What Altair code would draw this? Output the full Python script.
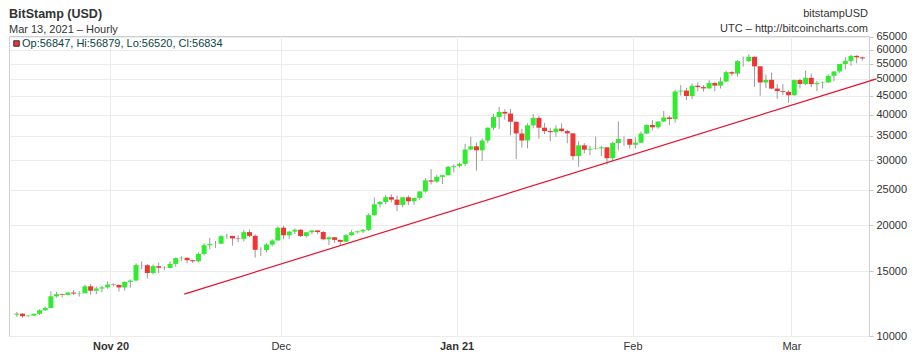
import altair as alt
import pandas as pd

# Daily candles, Oct 15 2020 .. Mar 13 2021 (BitStamp BTC/USD)
opens = [
    11425, 11500, 11320, 11365, 11495, 11750, 11915, 12820, 12990, 12935, 13125, 13040, 13070, 13650, 13275, 13460, 13560,
    13800, 13760, 13550, 14030, 14150, 15590, 15580, 14830, 15480, 15330, 15310, 15700, 16280, 16320, 16070, 15960, 16720, 17660, 17800, 17820, 18680, 18710, 18420, 18370, 19160, 18720, 17150, 17140, 17720, 18180,
    19700, 18790, 19220, 19450, 18700, 19150, 19360, 19170, 18320, 18550, 18250, 18030, 18800, 19140, 19250, 19430, 21310, 22800, 23140, 23850, 23480, 22720, 23830, 23240, 23730, 24710, 26490, 26280, 27080, 27360, 28840,
    29000, 29370, 32130, 32780, 31970, 33990, 36820, 39370, 40670, 40240, 38240, 35540, 34010, 37390, 39160, 36830, 36070, 35820, 36630, 36070, 35550, 30830, 32990, 32100, 32290, 32370, 32570, 30430, 33470, 34320, 34320,
    33110, 33540, 35510, 37470, 36930, 38290, 39270, 38900, 46200, 46480, 44920, 47910, 47500, 47100, 48720, 47940, 49200, 52150, 51680, 55890, 55890, 57400, 54090, 48890, 49710, 47060, 46330, 46100,
    45140, 49630, 48440, 50350, 48370, 48750, 48880, 50970, 52380, 54880, 55960, 57750, 57230,
]
highs = [
    11630, 11540, 11400, 11500, 11820, 12030, 13220, 13190, 13030, 13160, 13340, 13240, 13790, 13850, 13640, 13690, 14080,
    13900, 13820, 14070, 14260, 15770, 15960, 15700, 15650, 15840, 15480, 15950, 16340, 16480, 16330, 16120, 16880, 17860, 18480, 18130, 18800, 18960, 18720, 18770, 19420, 19480, 18910, 17450, 17880, 18340, 19860,
    19920, 19300, 19590, 19520, 19170, 19410, 19420, 19290, 18630, 18560, 18270, 18920, 19400, 19330, 19550, 21560, 23770, 23280, 24180, 24280, 24080, 23830, 24120, 23770, 24780, 26870, 28420, 27420, 27390, 28990, 29300,
    29600, 33300, 34780, 33600, 34440, 36940, 40180, 41950, 41350, 41420, 38260, 36600, 37850, 40100, 39700, 37950, 36800, 37400, 37850, 36400, 35600, 33820, 33450, 32950, 34870, 32900, 32580, 33760, 38300, 34900, 34340,
    34680, 35950, 37650, 38650, 38300, 40900, 39700, 46750, 48150, 47300, 48600, 48900, 48100, 49700, 49000, 50500, 52600, 52500, 56300, 57550, 58350, 57500, 54200, 51360, 52000, 48350, 48400, 46600,
    49800, 50100, 52600, 51700, 49400, 49200, 51450, 52400, 54900, 57300, 58100, 58000, 57480,
]
lows = [
    11270, 11220, 11290, 11340, 11410, 11690, 11900, 12720, 12730, 12900, 12930, 12800, 13060, 12950, 12990, 13140, 13440,
    13630, 13200, 13290, 13530, 14100, 15180, 14340, 14720, 14800, 15090, 15280, 15430, 15990, 15790, 15800, 15880, 16560, 17230, 17350, 17760, 18380, 17610, 18010, 18070, 18580, 16330, 16500, 16870, 17540, 18180,
    18330, 18350, 18930, 18580, 18510, 18940, 18920, 18210, 17650, 17910, 17570, 18020, 18730, 19000, 19050, 19290, 21230, 22350, 22800, 23070, 21840, 22360, 22700, 22720, 23440, 24520, 25820, 26120, 25880, 27340, 27850,
    28700, 28950, 32000, 28130, 29920, 33450, 36300, 36570, 38720, 35130, 30300, 32500, 32380, 36700, 34400, 35400, 33850, 34800, 35900, 33400, 30100, 28850, 31400, 31000, 32100, 30850, 29250, 29900, 31950, 32900, 32300,
    32300, 33440, 35390, 36200, 36600, 38220, 37400, 37990, 45000, 43750, 44050, 46300, 46200, 47050, 46300, 47080, 48950, 50950, 50750, 54000, 55500, 47600, 45000, 47200, 46900, 44150, 45150, 43050,
    45000, 47100, 48100, 47500, 46300, 47100, 48880, 49300, 51850, 53050, 54300, 55100, 56100,
]
closes = [
    11500, 11320, 11365, 11495, 11750, 11915, 12820, 12990, 12935, 13125, 13040, 13070, 13650, 13275, 13460, 13560, 13800,
    13760, 13550, 14030, 14150, 15590, 15580, 14830, 15480, 15330, 15310, 15700, 16280, 16320, 16070, 15960, 16720, 17660, 17800, 17820, 18680, 18710, 18420, 18370, 19160, 18720, 17150, 17140, 17720, 18180, 19700,
    18790, 19220, 19450, 18700, 19150, 19360, 19170, 18320, 18550, 18250, 18030, 18800, 19140, 19250, 19430, 21310, 22800, 23140, 23850, 23480, 22720, 23830, 23240, 23730, 24710, 26490, 26280, 27080, 27360, 28840, 29000,
    29370, 32130, 32780, 31970, 33990, 36820, 39370, 40670, 40240, 38240, 35540, 34010, 37390, 39160, 36830, 36070, 35820, 36630, 36070, 35550, 30830, 32990, 32100, 32290, 32370, 32570, 30430, 33470, 34320, 34320, 33110,
    33540, 35510, 37470, 36930, 38290, 39270, 38900, 46200, 46480, 44920, 47910, 47500, 47100, 48720, 47940, 49200, 52150, 51680, 55890, 55890, 57400, 54090, 48890, 49710, 47060, 46330, 46100, 45140,
    49630, 48440, 50350, 48370, 48750, 48880, 50970, 52380, 54880, 55960, 57750, 57230, 56834,
]

# Trend line end points
trend_dates = ["2020-11-14T00:00:00", "2021-03-16T00:00:00"]
trend_values = [13000, 50000]

# Y tick labels
y_ticks = [10000, 15000, 20000, 25000, 30000, 35000, 40000, 45000, 50000, 55000, 60000, 65000]

# Last hourly candle shown in the legend
last_op, last_hi, last_lo, last_cl = 56847, 56879, 56520, 56834

dates = pd.date_range("2020-10-15 12:00", periods=len(closes), freq="D").strftime("%Y-%m-%dT%H:%M:%S")
df = pd.DataFrame({"date": dates, "open": opens, "high": highs, "low": lows, "close": closes})
trend = pd.DataFrame({"date": trend_dates, "price": trend_values})

FONT = "Liberation Sans"

xscale = alt.Scale(domain=[alt.DateTime(year=2020, month=10, date=15),
                           alt.DateTime(year=2021, month=3, date=13, hours=19)])
yscale = alt.Scale(type="log", domain=[10000, 65400], nice=False)

month_ticks = [alt.DateTime(year=2020, month=11, date=1), alt.DateTime(year=2020, month=12, date=1),
               alt.DateTime(year=2021, month=1, date=1), alt.DateTime(year=2021, month=2, date=1),
               alt.DateTime(year=2021, month=3, date=1)]

xaxis = alt.Axis(
    values=month_ticks, title=None, grid=True, tickSize=0, labelPadding=4, domain=False,
    labelExpr="(month(datum.value) == 0 || month(datum.value) == 10) ? timeFormat(datum.value, '%b %y') : timeFormat(datum.value, '%b')",
    labelFontWeight={"condition": {"test": "month(datum.value) == 0 || month(datum.value) == 10", "value": "bold"}, "value": "normal"},
)
yaxis = alt.Axis(orient="right", values=y_ticks, format="d", title=None, grid=True,
                 tickSize=4, labelPadding=3, domain=False)

base = alt.Chart(df)

wicks = base.mark_rule(color="#9a9a9a", strokeWidth=1).encode(
    x=alt.X("date:T", scale=xscale, axis=xaxis),
    y=alt.Y("low:Q", scale=yscale, axis=yaxis),
    y2="high:Q",
)

bodies = base.mark_bar(size=5).encode(
    x=alt.X("date:T", scale=xscale),
    y=alt.Y("open:Q", scale=yscale),
    y2="close:Q",
    color=alt.condition("datum.close >= datum.open", alt.value("#2fec2f"), alt.value("#f03535")),
)

trend_line = alt.Chart(trend).mark_line(color="#e8102e", strokeWidth=1.2, clip=False).encode(
    x=alt.X("date:T", scale=xscale),
    y=alt.Y("price:Q", scale=yscale),
)

def label(txt, x, y, size, weight="normal", align="left", color="#333333"):
    return alt.Chart(pd.DataFrame({"t": [txt]})).mark_text(
        align=align, baseline="alphabetic", font=FONT, fontSize=size, fontWeight=weight, color=color
    ).encode(x=alt.value(x), y=alt.value(y), text="t:N")

legend_txt = f"Op:{last_op}, Hi:{last_hi}, Lo:{last_lo}, Cl:{last_cl}"

texts = [
    label("BitStamp (USD)", 0, -18, 12.5, "bold"),
    label("Mar 13, 2021 \u2013 Hourly", 0, -3.5, 11),
    label("bitstampUSD", 859, -19, 11, align="right"),
    label("UTC \u2013 http://bitcoincharts.com", 859, -4.5, 11, align="right"),
    label(legend_txt, 13, 11, 11, color="#0c4545"),
]

square = alt.Chart(pd.DataFrame({"t": ["x"]})).mark_square(
    size=30, fill="#f03535", stroke="#333333", strokeWidth=1, opacity=1
).encode(x=alt.value(7.5), y=alt.value(7.5))

chart = alt.layer(wicks, bodies, trend_line, square, *texts).properties(
    width=860, height=300,
    padding={"left": 1, "top": 28, "right": 43, "bottom": 24},
    autosize=alt.AutoSizeParams(type="none"),
).configure_axis(
    labelFont=FONT, labelFontSize=11, labelColor="#333333",
    gridColor="#ececec", tickColor="#c8c8c8", domainColor="#c8c8c8",
).configure_view(stroke="#cfcfcf")

chart.save("out.html", embed_options={"renderer": "svg", "actions": False})
